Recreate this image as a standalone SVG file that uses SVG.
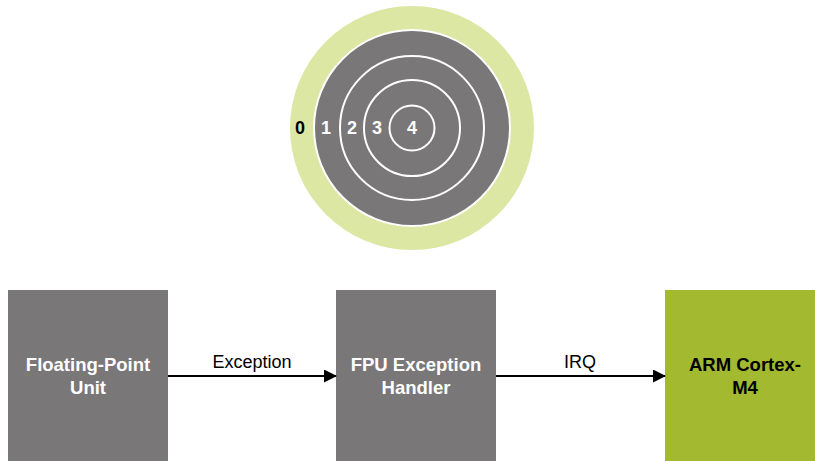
<svg xmlns="http://www.w3.org/2000/svg" width="815" height="461" viewBox="0 0 815 461">
<style>
.ring{fill:none;stroke:#ffffff;stroke-width:2}
.lbl{font-family:"Liberation Sans",Arial,sans-serif;font-size:18px;font-weight:bold;text-anchor:middle;dominant-baseline:central}
.box{fill:#7a7778}
.bt{font-family:"Liberation Sans",Arial,sans-serif;font-size:18.5px;font-weight:bold;text-anchor:middle;fill:#ffffff}
.el{font-family:"Liberation Sans",Arial,sans-serif;font-size:18px;text-anchor:middle;fill:#000000}
.conn{stroke:#000000;stroke-width:2;fill:none}
</style>
<defs>
<marker id="ah" markerWidth="13" markerHeight="13" refX="12" refY="6.5" orient="auto" markerUnits="userSpaceOnUse">
<path d="M0,0 L13,6.5 L0,13 Z" fill="#000"/>
</marker>
</defs>
<g id="target">
<circle cx="412" cy="128" r="122" fill="#dbe7a2"/>
<circle cx="412" cy="128" r="98" fill="#7a7778" stroke="#ffffff" stroke-width="2"/>
<circle class="ring" cx="412" cy="128" r="72"/>
<circle class="ring" cx="412" cy="128" r="48"/>
<circle class="ring" cx="412" cy="128" r="22.5"/>
<text class="lbl" x="300" y="128" fill="#000">0</text>
<text class="lbl" x="326" y="128" fill="#fff">1</text>
<text class="lbl" x="352" y="128" fill="#fff">2</text>
<text class="lbl" x="377" y="128" fill="#fff">3</text>
<text class="lbl" x="412" y="128" fill="#fff">4</text>
</g>
<g id="fpu">
<rect class="box" x="8" y="290" width="160" height="180"/>
<text class="bt" x="88" y="371">Floating-Point</text>
<text class="bt" x="88" y="394">Unit</text>
</g>
<g id="handler">
<rect class="box" x="336" y="290" width="160" height="180"/>
<text class="bt" x="416" y="371">FPU Exception</text>
<text class="bt" x="416" y="394">Handler</text>
</g>
<g id="arm">
<rect x="665" y="290" width="160" height="180" fill="#a3b92f"/>
<text class="bt" x="745" y="371" style="fill:#000">ARM Cortex-</text>
<text class="bt" x="745" y="394" style="fill:#000">M4</text>
</g>
<g id="connectors">
<line class="conn" x1="168" y1="376" x2="336" y2="376" marker-end="url(#ah)"/>
<line class="conn" x1="496" y1="376" x2="665" y2="376" marker-end="url(#ah)"/>
<text class="el" x="252" y="368">Exception</text>
<text class="el" x="580" y="368">IRQ</text>
</g>
</svg>
